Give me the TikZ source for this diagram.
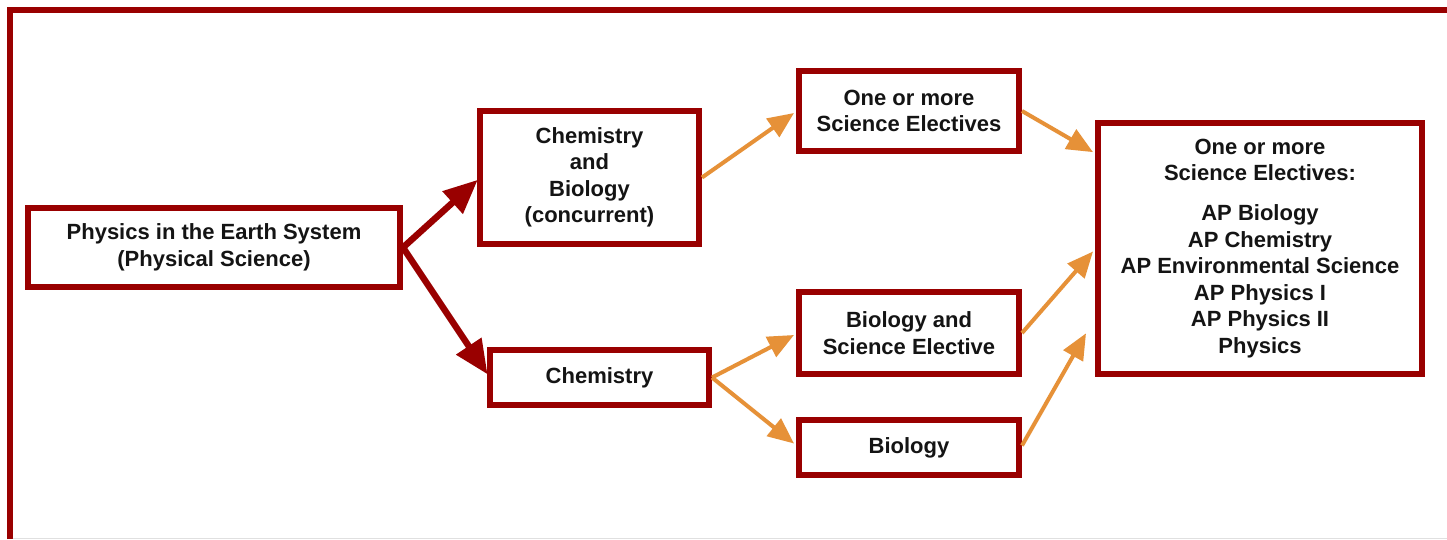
\documentclass[tikz,border=0pt]{standalone}
\usepackage{fontspec}
\setmainfont{Liberation Sans}
\usetikzlibrary{arrows.meta,calc}
\definecolor{dred}{HTML}{990000}
\definecolor{orng}{HTML}{E69138}
\begin{document}
\begin{tikzpicture}[x=1pt,y=-1pt,
  box/.style={draw=dred,line width=6pt,fill=white,inner sep=0pt,align=center,
    font=\fontsize{22}{26.5}\selectfont\bfseries,text=black!92},
  redarrow/.style={draw=dred,line width=6.5pt,-{Triangle[length=34pt,width=29pt]},shorten >=-1pt},
  orarrow/.style={draw=orng,line width=4pt,-{Triangle[length=26pt,width=22pt]}}]
\useasboundingbox (0,0) rectangle (1447,539);
\fill[white] (0,0) rectangle (1447,539);
% frame
\draw[dred,line width=6pt] (9.5,539) -- (9.5,10) -- (1447,10);
\draw[black!12,line width=1pt] (12.5,538) -- (1447,538);
% nodes
\node[box,minimum width=372pt,minimum height=79pt] (A) at (214,247.5) {Physics in the Earth System\\(Physical Science)};
\node[box,minimum width=219pt,minimum height=133pt] (B) at (589.5,177.5) {Chemistry\\and\\Biology\\(concurrent)};
\node[box,minimum width=219pt,minimum height=55pt] (C) at (599.5,377.5) {Chemistry};
\node[box,minimum width=220pt,minimum height=80pt] (D) at (909,111) {One or more\\Science Electives};
\node[box,minimum width=220pt,minimum height=82pt] (E) at (909,333) {Biology and\\Science Elective};
\node[box,minimum width=220pt,minimum height=55pt] (F) at (909,447.5) {Biology};
\node[box,minimum width=324pt,minimum height=251pt] (G) at (1260,248.5) {One or more\\Science Electives:\\[13.5pt]AP Biology\\AP Chemistry\\AP Environmental Science\\AP Physics I\\AP Physics II\\Physics};
% connectors
\draw[redarrow] (A.east) -- ($(B.west)+(0,3)$);
\draw[redarrow] (A.east) -- ($(C.west)+(0,-4)$);
\draw[orarrow] (B.east) -- ($(D.west)+(-2,2)$);
\draw[orarrow] (C.east) -- ($(E.west)+(-2,2)$);
\draw[orarrow] (C.east) -- ($(F.west)+(-2,-4)$);
\draw[orarrow] (D.east) -- ($(G.north west)!0.125!(G.south west)+(-2,0)$);
\draw[orarrow] (E.east) -- ($(G.west)+(-2,3)$);
\draw[orarrow] ($(F.east)+(0,-2)$) -- ($(G.north west)!0.83!(G.south west)+(-9,0)$);
\end{tikzpicture}
\end{document}
